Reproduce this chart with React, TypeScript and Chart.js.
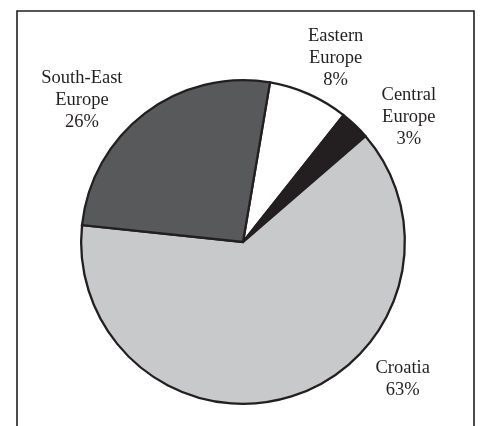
import React, { useEffect, useRef } from "react";
import { Chart, registerables } from "chart.js";

Chart.register(...registerables);

const categories = ["Eastern Europe", "Central Europe", "Croatia", "South-East Europe"];
const categoryLines = [["Eastern", "Europe"], ["Central", "Europe"], ["Croatia"], ["South-East", "Europe"]];
const shares = [8, 3, 63, 26];
const sliceColors = ["#ffffff", "#231f20", "#c8c9cb", "#58595b"];
// label placement: angle clockwise from top (deg) and distance as a multiple of radius
const labelAngles = [26.6, 52.8, 130.4, 311.6];
const labelDistances = [1.278, 1.286, 1.296, 1.331];

const INK = "#231f20";

const frameAndLabels = {
  id: "frameAndLabels",
  beforeDraw(chart: any) {
    const ctx = chart.ctx;
    ctx.save();
    ctx.strokeStyle = INK;
    ctx.lineWidth = 1.6;
    ctx.beginPath();
    ctx.moveTo(17, chart.height + 2);
    ctx.lineTo(17, 11);
    ctx.lineTo(474, 11);
    ctx.lineTo(474, chart.height + 2);
    ctx.stroke();
    ctx.restore();
  },
  afterDraw(chart: any) {
    const ctx = chart.ctx;
    const meta = chart.getDatasetMeta(0);
    const arc0 = meta.data[0];
    if (!arc0) return;
    const cx = arc0.x;
    const cy = arc0.y;
    const r = arc0.outerRadius;
    ctx.save();
    ctx.fillStyle = INK;
    ctx.font = '18.5px "Liberation Serif", "Times New Roman", serif';
    ctx.textAlign = "center";
    ctx.textBaseline = "alphabetic";
    const lh = 22;
    shares.forEach((v, i) => {
      const lines = [...categoryLines[i], v + "%"];
      const a = (labelAngles[i] * Math.PI) / 180;
      const d = labelDistances[i] * r;
      const x = cx + d * Math.sin(a);
      const y = cy - d * Math.cos(a);
      const n = lines.length;
      lines.forEach((t, j) => {
        ctx.fillText(t, x, y + 6 + (j - (n - 1) / 2) * lh);
      });
    });
    ctx.restore();
  },
};

export default function App() {
  const ref = useRef<HTMLCanvasElement | null>(null);
  useEffect(() => {
    if (!ref.current) return;
    const chart = new Chart(ref.current, {
      type: "pie",
      data: {
        labels: categories,
        datasets: [
          {
            data: shares,
            backgroundColor: sliceColors,
            borderColor: INK,
            borderWidth: 2.3,
            borderJoinStyle: "miter",
          } as any,
        ],
      },
      options: {
        responsive: false,
        animation: false,
        rotation: 9.6,
        layout: { padding: { left: 80, right: 74, top: 79, bottom: 21 } },
        plugins: {
          legend: { display: false },
          tooltip: { enabled: false },
        },
      },
      plugins: [frameAndLabels],
    });
    return () => chart.destroy();
  }, []);
  return (
    <div style={{ position: "absolute", left: 0, top: 0, width: 480, height: 426, background: "#ffffff" }}>
      <canvas ref={ref} width={480} height={426} style={{ display: "block" }} />
    </div>
  );
}
